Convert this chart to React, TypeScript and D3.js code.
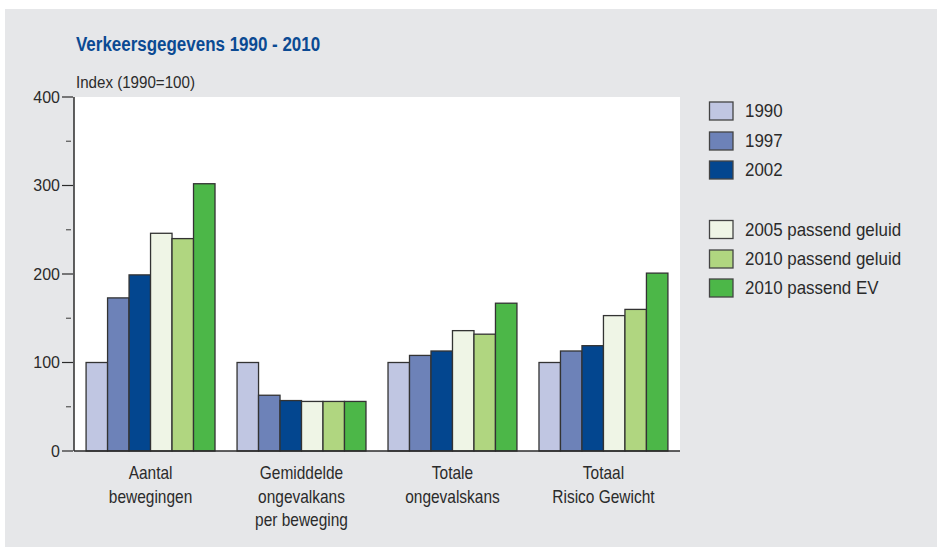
import React from "react";
import * as d3 from "d3";

const categories = [
  ["Aantal", "bewegingen"],
  ["Gemiddelde", "ongevalkans", "per beweging"],
  ["Totale", "ongevalskans"],
  ["Totaal", "Risico Gewicht"],
];
const seriesNames = ["1990", "1997", "2002", "2005 passend geluid", "2010 passend geluid", "2010 passend EV"];
const seriesColors = ["#c0c6e2", "#6d82b8", "#03468f", "#eff5e6", "#b0d680", "#4cb748"];
const values1990 = [100, 100, 100, 100];
const values1997 = [173, 63, 108, 113];
const values2002 = [199, 57, 113, 119];
const values2005 = [246, 56, 136, 153];
const values2010g = [240, 56, 132, 160];
const values2010ev = [302, 56, 167, 201];
const seriesValues = [values1990, values1997, values2002, values2005, values2010g, values2010ev];
const yTicks = [0, 100, 200, 300, 400];
const yMinorTicks = [50, 150, 250, 350];

const FONT = "'Liberation Sans', Arial, sans-serif";
const TEXT = "#2b2b2b";

function T(props: {
  x: number;
  y: number;
  sx: number;
  size: number;
  anchor?: string;
  fill?: string;
  bold?: boolean;
  children: React.ReactNode;
}) {
  return (
    <text
      transform={`translate(${props.x},${props.y}) scale(${props.sx},1)`}
      textAnchor={props.anchor || "start"}
      fill={props.fill || TEXT}
      fontFamily={FONT}
      fontSize={props.size}
      fontWeight={props.bold ? "bold" : "normal"}
      dy="0.35em"
    >
      {props.children}
    </text>
  );
}

export default function App() {
  const W = 937, H = 547;
  const x0 = 74, x1 = 680, yTop = 97, yBot = 451;
  const x = d3.scaleBand<number>().domain(d3.range(categories.length)).range([x0, x1]).paddingInner(0.146).paddingOuter(0.08);
  const xs = d3.scaleBand<number>().domain(d3.range(seriesNames.length)).range([0, x.bandwidth()]);
  const y = d3.scaleLinear().domain([0, 400]).range([yBot, yTop]);

  const legendY = [111, 141, 170, 229.5, 259, 288];

  return (
    <svg width={W} height={H} style={{ position: "absolute", left: 0, top: 0 }}>
      <rect x={5} y={9} width={W - 5} height={H - 9} fill="#e6e7e9" />
      <T x={76} y={44.5} sx={0.87} size={19.5} bold fill="#0b4a93">
        Verkeersgegevens 1990 - 2010
      </T>
      <T x={76} y={82} sx={0.89} size={17}>
        Index (1990=100)
      </T>
      <rect x={x0} y={yTop} width={x1 - x0} height={yBot - yTop} fill="#ffffff" />
      {seriesValues.map((vals, si) =>
        vals.map((v, ci) => (
          <rect
            key={`${si}-${ci}`}
            x={(x(ci) as number) + (xs(si) as number)}
            y={y(v)}
            width={xs.bandwidth()}
            height={yBot - y(v)}
            fill={seriesColors[si]}
            stroke="#333333"
            strokeWidth={1.3}
          />
        ))
      )}
      <line x1={x0} x2={x0} y1={yTop} y2={yBot} stroke="#2b2b2b" strokeWidth={1.5} />
      <line x1={x0} x2={x1} y1={yBot} y2={yBot} stroke="#2b2b2b" strokeWidth={1.5} />
      {yTicks.map((t) => (
        <g key={t}>
          <line x1={62} x2={73} y1={y(t)} y2={y(t)} stroke="#2b2b2b" strokeWidth={1.2} />
          <T x={60} y={y(t)} sx={0.97} size={16.5} anchor="end">
            {t}
          </T>
        </g>
      ))}
      {yMinorTicks.map((t) => (
        <line key={t} x1={66} x2={71} y1={y(t)} y2={y(t)} stroke="#555" strokeWidth={1.2} />
      ))}
      {categories.map((lines, ci) =>
        lines.map((l, li) => (
          <T key={`${ci}-${li}`} x={(x(ci) as number) + x.bandwidth() / 2} y={473 + li * 23.3} sx={0.86} size={18} anchor="middle">
            {l}
          </T>
        ))
      )}
      {seriesNames.map((name, si) => (
        <g key={name}>
          <rect x={709.5} y={legendY[si] - 9} width={23.5} height={18} fill={seriesColors[si]} stroke="#444" strokeWidth={1.3} />
          <T x={745} y={legendY[si]} sx={0.94} size={18}>
            {name}
          </T>
        </g>
      ))}
    </svg>
  );
}
